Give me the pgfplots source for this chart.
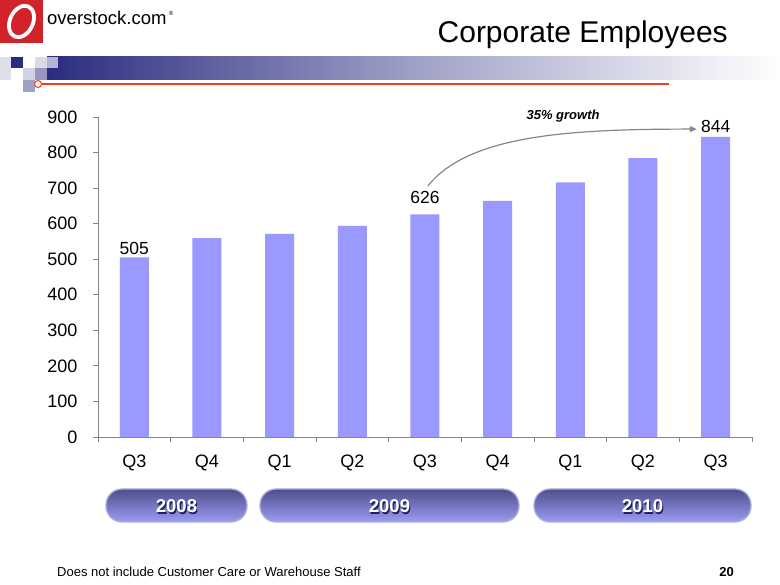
\documentclass[border=0pt]{standalone}
\usepackage{fontspec}
\setmainfont{Liberation Sans}
\usepackage{pgfplots}
\pgfplotsset{compat=1.18}
\usetikzlibrary{arrows.meta}
\definecolor{barblue}{HTML}{9999FF}
\definecolor{navy}{HTML}{2A2C80}
\definecolor{logored}{HTML}{D2232A}
\definecolor{linered}{HTML}{F0401E}
\definecolor{btntop}{HTML}{4E4E8E}
\definecolor{btnbot}{HTML}{9C9CF4}
\definecolor{btnborder}{HTML}{AAB0DC}
\definecolor{btnshadow}{HTML}{20205A}
\definecolor{axgray}{HTML}{868686}
\newcommand{\yearbtn}[3]{%
  \shadedraw[top color=btntop, bottom color=btnbot, draw=btnborder, line width=1.3pt, rounded corners=16pt] (#1,63) rectangle (#2,96);
  \node[font=\bfseries\fontsize{18.5}{20}\selectfont, text=btnshadow, inner sep=0] at ({(#1+#2)/2+1.2},77.3) {#3};
  \node[font=\bfseries\fontsize{18.5}{20}\selectfont, text=white, inner sep=0] at ({(#1+#2)/2},78.5) {#3};}
\begin{document}
\begin{tikzpicture}[x=1pt,y=1pt]
\path[fill=white] (0,0) rectangle (780,585);
% logo
\fill[logored] (0,542) rectangle (43,585);
\draw[white, line width=3.8pt, rotate around={-25:(21.5,563.5)}] (21.5,563.5) ellipse (11.5 and 16.5);
\node[anchor=base west, inner sep=0, font=\fontsize{18.5}{21}\selectfont] at (47,560) {overstock.com};
\node[inner sep=0, font=\fontsize{6}{7}\selectfont] at (171,572) {\textregistered};
% band
\shade[left color=navy, right color=white, middle color=navy!45!white] (47,505) rectangle (780,528);
\fill[navy!15!white] (0,505) rectangle (11,528);
\fill[navy] (11,517) rectangle (23,528);
\fill[navy!22!white] (23,505) rectangle (35,517);
\fill[navy!18!white] (35,517) rectangle (47,528);
\fill[navy!35!white] (47,517) rectangle (58,528);
\fill[navy!50!white] (35,505) rectangle (47,517);
\fill[navy!45!white] (23,493) rectangle (35,505);
\draw[linered, line width=2pt] (38,501) -- (669,501);
\draw[fill=white, draw=linered, line width=1pt] (38,501) circle (3.5);
% title
\node[anchor=base east, inner sep=0, font=\fontsize{30}{33}\selectfont] at (728,542) {Corporate Employees};
\begin{axis}[
  at={(98pt,148pt)}, anchor=south west,
  width=654pt, height=320pt, scale only axis,
  xmin=-0.5, xmax=8.5, ymin=0, ymax=900, enlargelimits=false,
  axis x line*=bottom, axis y line*=left,
  axis line style={axgray, line width=0.8pt},
  ytick={0,100,...,900},
  xtick={0,...,8},
  xticklabels={Q3,Q4,Q1,Q2,Q3,Q4,Q1,Q2,Q3},
  minor xtick={-0.5,0.5,...,8.5},
  tick align=outside,
  major tick length=5pt, minor tick length=5pt,
  major x tick style={draw=none},
  minor x tick style={axgray, line width=0.8pt},
  major y tick style={axgray, line width=0.8pt},
  /pgf/number format/assume math mode=true,
  ticklabel style={font=\fontsize{18}{20}\selectfont},
  yticklabel style={xshift=-12pt},
  xticklabel style={yshift=-9pt},
  ybar, bar width=29pt,
  clip=false,
]
\addplot[fill=barblue, draw=none] coordinates {
  (0,505) (1,559) (2,571) (3,594) (4,626) (5,664) (6,716) (7,784) (8,844)};
\node[anchor=base, inner sep=0, font=\fontsize{17.5}{19}\selectfont] at (axis cs:0,514) {505};
\node[anchor=base, inner sep=0, font=\fontsize{17.5}{19}\selectfont] at (axis cs:4,658) {626};
\node[anchor=base, inner sep=0, font=\fontsize{17.5}{19}\selectfont] at (axis cs:8,855) {844};
\draw[axgray, line width=1.2pt, -{Triangle[length=7pt,width=6pt]}] (axis cs:4.04,706) .. controls (axis cs:4.6,850) and (axis cs:6.0,866) .. (axis cs:7.74,866);
\node[font=\bfseries\itshape\fontsize{13}{15}\selectfont, inner sep=0] at (axis cs:5.9,903) {35\% growth};
\end{axis}
\yearbtn{106}{247}{2008}
\yearbtn{260}{519}{2009}
\yearbtn{534}{751}{2010}
\node[anchor=west, inner sep=0, font=\fontsize{13}{15}\selectfont] at (57,13) {Does not include Customer Care or Warehouse Staff};
\node[anchor=east, inner sep=0, font=\bfseries\fontsize{13}{15}\selectfont] at (734,13) {20};
\end{tikzpicture}
\end{document}
